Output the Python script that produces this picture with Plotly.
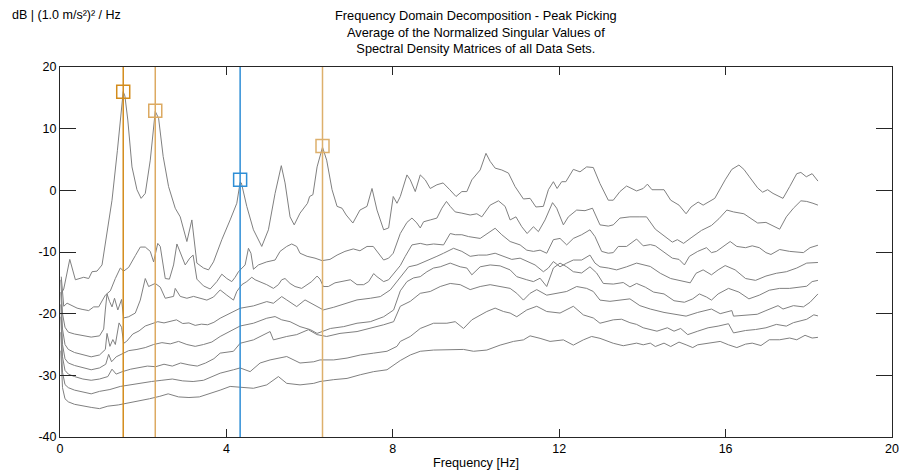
import plotly.graph_objects as go

# ---- data (frequency [Hz], level [dB]) ----
SV1 = [(0.05,-16.5),(0.09,-16.0),(0.235,-11.2),(0.37,-14.5),(0.57,-14.1),(0.69,-14.3),(0.77,-13.2),(0.89,-13.1),(1.01,-12.1),(1.13,-6.5),(1.25,-1.6),(1.38,6.5),(1.47,13.5),(1.52,16.0),(1.56,15.3),(1.63,11.4),(1.73,3.8),(1.85,0.1),(1.95,-1.3),(2.05,-0.5),(2.17,4.9),(2.29,12.8),(2.37,11.7),(2.48,5.5),(2.61,0.6),(2.77,-2.9),(2.89,-4.3),(3.05,-8.3),(3.17,-4.8),(3.29,-11.8),(3.45,-12.6),(3.57,-12.9),(3.69,-11.6),(3.89,-8.0),(4.09,-4.8),(4.25,-2.1),(4.33,1.3),(4.36,1.2),(4.49,-2.6),(4.65,-6.4),(4.85,-9.1),(5.01,-6.4),(5.17,-0.5),(5.32,4.0),(5.41,1.2),(5.53,-4.3),(5.63,-5.6),(5.77,-3.7),(5.95,-2.1),(6.0,-1.0),(6.08,-0.7),(6.18,3.8),(6.31,7.0),(6.41,4.9),(6.54,0.1),(6.66,-2.6),(6.78,-2.9),(6.88,-4.0),(7.04,-5.3),(7.21,-3.2),(7.38,-2.6),(7.5,0.3),(7.62,-3.2),(7.78,-6.4),(7.9,-6.1),(8.01,-1.0),(8.1,-2.1),(8.18,-1.0),(8.34,2.5),(8.42,1.7),(8.54,-0.2),(8.66,2.5),(8.78,1.7),(8.9,0.3),(9.06,0.9),(9.21,1.2),(9.37,0.1),(9.52,-1.0),(9.66,-0.2),(9.78,-0.2),(9.9,1.7),(10.1,3.3),(10.24,6.0),(10.34,4.7),(10.46,3.6),(10.62,3.3),(10.78,2.8),(10.94,0.6),(11.14,-1.4),(11.3,-1.3),(11.44,-2.7),(11.62,-2.6),(11.74,0.1),(11.86,1.4),(11.95,0.3),(12.06,1.4),(12.16,1.4),(12.34,3.4),(12.5,3.0),(12.66,3.8),(12.82,3.7),(12.98,1.1),(13.18,-1.6),(13.3,-1.6),(13.46,-0.2),(13.62,0.7),(13.86,-0.1),(14.02,0.3),(14.12,1.0),(14.23,0.1),(14.52,0.1),(14.68,-1.6),(14.88,-2.4),(15.05,-3.8),(15.17,-2.7),(15.34,-1.9),(15.46,-2.4),(15.74,-1.3),(15.99,1.7),(16.15,3.4),(16.32,4.1),(16.44,3.4),(16.56,2.3),(16.77,0.4),(16.89,-0.3),(17.01,0.1),(17.14,-0.5),(17.38,-1.3),(17.54,0.6),(17.71,2.7),(17.81,2.9),(17.94,2.2),(18.08,2.7),(18.22,1.5)]

SV2 = [(0.03,-14.0),(0.09,-18.8),(0.17,-18.3),(0.29,-18.7),(0.41,-19.1),(0.53,-19.3),(0.69,-19.5),(0.81,-18.9),(0.93,-18.9),(1.09,-17.0),(1.21,-16.3),(1.33,-14.3),(1.45,-12.6),(1.53,-13.1),(1.65,-12.5),(1.81,-10.6),(1.93,-9.2),(2.05,-9.2),(2.17,-9.9),(2.25,-11.6),(2.35,-8.6),(2.41,-9.1),(2.48,-12.4),(2.53,-14.3),(2.63,-14.4),(2.73,-12.1),(2.81,-8.7),(2.89,-10.2),(3.01,-12.1),(3.12,-11.0),(3.2,-10.5),(3.29,-14.4),(3.45,-15.5),(3.61,-16.0),(3.77,-14.8),(3.89,-13.6),(4.01,-14.3),(4.13,-14.8),(4.21,-14.1),(4.29,-13.2),(4.37,-12.6),(4.45,-12.1),(4.53,-9.4),(4.59,-10.2),(4.65,-12.8),(4.77,-12.1),(4.97,-11.6),(5.17,-11.3),(5.29,-9.9),(5.45,-9.1),(5.57,-8.7),(5.69,-9.1),(5.77,-10.2),(5.94,-10.7),(6.13,-11.0),(6.3,-11.4),(6.49,-11.2),(6.66,-10.5),(6.85,-9.9),(7.05,-9.5),(7.21,-9.8),(7.38,-9.1),(7.53,-9.1),(7.65,-10.2),(7.78,-11.3),(7.9,-11.0),(8.01,-10.2),(8.18,-7.0),(8.34,-5.2),(8.46,-4.5),(8.58,-5.3),(8.66,-6.1),(8.74,-5.1),(8.9,-4.8),(9.06,-4.5),(9.18,-2.9),(9.29,-1.8),(9.38,-2.6),(9.5,-3.5),(9.66,-3.7),(9.86,-4.0),(10.02,-3.8),(10.14,-4.3),(10.34,-2.4),(10.54,-1.7),(10.7,-2.6),(10.82,-4.8),(10.96,-4.3),(11.1,-5.9),(11.23,-7.0),(11.38,-5.9),(11.5,-6.7),(11.66,-4.8),(11.84,-2.0),(11.94,-2.9),(12.1,-5.6),(12.22,-4.3),(12.42,-3.2),(12.62,-3.3),(12.8,-2.9),(12.98,-5.6),(13.18,-5.8),(13.3,-5.6),(13.46,-4.5),(13.7,-4.3),(13.94,-4.3),(14.1,-4.3),(14.31,-6.3),(14.52,-7.4),(14.72,-8.4),(14.84,-8.0),(14.99,-8.6),(15.17,-7.7),(15.42,-6.5),(15.66,-5.7),(15.84,-4.6),(16.03,-3.2),(16.19,-3.5),(16.44,-3.8),(16.6,-4.6),(16.77,-5.3),(16.97,-5.2),(17.14,-5.7),(17.3,-6.3),(17.46,-4.3),(17.63,-2.9),(17.81,-1.7),(17.95,-1.8),(18.1,-2.1),(18.22,-2.4)]

SV3 = [(0.02,-14.5),(0.06,-20.0),(0.12,-22.2),(0.2,-23.0),(0.35,-23.3),(0.55,-23.5),(0.75,-23.8),(0.95,-23.6),(1.05,-22.5),(1.09,-19.4),(1.13,-16.8),(1.19,-18.0),(1.25,-18.9),(1.31,-17.5),(1.39,-19.4),(1.48,-17.7),(1.53,-20.7),(1.65,-20.5),(1.81,-19.9),(1.93,-17.8),(2.05,-14.3),(2.13,-15.6),(2.29,-15.1),(2.41,-15.7),(2.53,-17.5),(2.73,-17.2),(2.77,-15.9),(2.89,-17.2),(3.05,-17.5),(3.21,-17.2),(3.37,-17.5),(3.53,-17.8),(3.69,-17.3),(3.85,-16.15),(4.01,-17.0),(4.17,-17.8),(4.25,-16.4),(4.37,-15.3),(4.49,-14.8),(4.61,-14.1),(4.69,-14.5),(4.81,-14.8),(4.97,-15.3),(5.13,-15.9),(5.25,-15.3),(5.33,-14.5),(5.41,-14.3),(5.53,-15.1),(5.65,-15.6),(5.81,-15.9),(5.93,-15.3),(6.05,-14.8),(6.18,-13.9),(6.25,-14.4),(6.33,-15.6),(6.45,-15.6),(6.61,-15.0),(6.78,-14.8),(6.98,-14.5),(7.14,-15.3),(7.3,-15.3),(7.42,-14.8),(7.54,-13.5),(7.62,-14.0),(7.78,-14.8),(7.9,-14.5),(8.02,-13.5),(8.18,-12.2),(8.3,-10.7),(8.46,-8.85),(8.66,-8.6),(8.82,-8.85),(8.98,-8.7),(9.22,-8.85),(9.38,-7.0),(9.5,-7.2),(9.66,-7.2),(9.82,-7.5),(10.1,-7.8),(10.26,-7.0),(10.46,-6.15),(10.62,-7.2),(10.82,-8.3),(11.06,-8.85),(11.22,-9.7),(11.38,-9.9),(11.54,-9.7),(11.7,-10.2),(11.86,-8.0),(12.02,-7.8),(12.18,-8.85),(12.34,-7.8),(12.54,-7.2),(12.74,-6.4),(12.86,-7.5),(13.02,-9.9),(13.18,-10.2),(13.3,-10.1),(13.42,-9.1),(13.62,-9.1),(13.86,-7.9),(14.02,-9.0),(14.19,-8.8),(14.31,-9.0),(14.52,-10.1),(14.72,-11.0),(14.88,-11.2),(15.01,-12.1),(15.13,-10.7),(15.33,-9.9),(15.54,-9.3),(15.66,-10.1),(15.78,-9.9),(15.95,-9.0),(16.11,-8.3),(16.27,-9.1),(16.48,-9.3),(16.64,-9.0),(16.81,-9.3),(16.97,-10.1),(17.09,-10.4),(17.3,-9.6),(17.54,-9.9),(17.87,-10.1),(18.03,-9.3),(18.22,-8.9)]

SV4 = [(0.02,-16.5),(0.06,-22.5),(0.12,-25.0),(0.2,-25.8),(0.35,-26.3),(0.55,-26.6),(0.75,-27.0),(0.95,-26.7),(1.09,-25.8),(1.13,-23.2),(1.2,-25.3),(1.27,-24.2),(1.33,-25.0),(1.42,-21.5),(1.48,-22.2),(1.53,-24.8),(1.6,-24.5),(1.75,-23.3),(1.9,-22.8),(2.05,-22.0),(2.2,-21.6),(2.35,-21.3),(2.5,-21.5),(2.65,-21.2),(2.8,-21.0),(2.95,-21.6),(3.1,-21.5),(3.25,-21.9),(3.4,-21.7),(3.55,-21.8),(3.7,-21.4),(3.85,-20.74),(4.17,-19.66),(4.33,-19.12),(4.65,-18.74),(4.97,-18.04),(5.13,-18.31),(5.33,-17.23),(5.45,-17.77),(5.69,-18.85),(5.89,-17.77),(6.18,-18.85),(6.33,-19.39),(6.58,-18.96),(6.9,-18.31),(7.14,-17.77),(7.46,-17.5),(7.7,-17.23),(7.94,-16.15),(8.18,-14.0),(8.38,-12.4),(8.58,-12.1),(8.78,-11.55),(9.06,-10.7),(9.22,-10.2),(9.46,-9.4),(9.66,-9.9),(9.86,-10.7),(10.06,-10.5),(10.26,-10.5),(10.46,-10.2),(10.66,-10.7),(10.86,-11.2),(11.06,-11.0),(11.26,-11.55),(11.42,-12.1),(11.62,-13.2),(11.74,-12.6),(11.86,-11.55),(12.02,-12.4),(12.18,-11.8),(12.34,-11.3),(12.54,-11.3),(12.74,-10.5),(12.86,-11.8),(12.98,-12.4),(13.18,-12.6),(13.38,-12.9),(13.62,-12.4),(13.86,-11.8),(14.19,-12.35),(14.43,-13.45),(14.68,-14.3),(14.92,-14.6),(15.15,-15.0),(15.29,-13.45),(15.46,-12.9),(15.66,-13.7),(15.82,-12.9),(15.99,-12.2),(16.23,-12.9),(16.48,-14.3),(16.72,-14.6),(16.97,-13.9),(17.22,-13.45),(17.46,-13.2),(17.71,-12.6),(17.95,-11.8),(18.22,-11.7)]

SV5 = [(0.02,-18.5),(0.06,-25.0),(0.12,-27.3),(0.2,-28.0),(0.35,-28.4),(0.55,-28.8),(0.75,-29.1),(0.95,-28.8),(1.1,-28.2),(1.17,-26.6),(1.24,-27.8),(1.35,-27.0),(1.5,-26.5),(1.65,-26.0),(1.85,-25.8),(2.05,-25.5),(2.25,-25.0),(2.45,-24.7),(2.65,-24.9),(2.85,-24.5),(3.05,-25.0),(3.25,-25.3),(3.45,-25.0),(3.65,-24.6),(3.85,-23.7),(4.09,-22.9),(4.33,-22.0),(4.65,-21.55),(4.97,-20.74),(5.17,-20.47),(5.33,-21.0),(5.53,-21.3),(5.77,-22.1),(6.02,-22.6),(6.18,-23.2),(6.5,-22.4),(6.82,-22.1),(7.14,-21.55),(7.46,-21.3),(7.78,-20.5),(8.02,-19.4),(8.18,-16.3),(8.34,-14.8),(8.5,-14.2),(8.66,-14.0),(8.82,-13.2),(8.98,-12.6),(9.14,-12.4),(9.38,-11.8),(9.62,-12.4),(9.78,-12.6),(9.9,-13.7),(10.1,-12.4),(10.34,-12.1),(10.58,-12.25),(10.82,-12.9),(10.98,-14.0),(11.22,-14.5),(11.38,-14.8),(11.54,-14.25),(11.7,-15.6),(11.86,-12.6),(12.02,-11.8),(12.18,-12.4),(12.34,-13.2),(12.54,-13.4),(12.74,-12.4),(12.9,-13.4),(13.06,-15.1),(13.3,-15.2),(13.54,-14.95),(13.7,-15.66),(13.86,-15.1),(14.07,-15.7),(14.27,-16.5),(14.52,-16.8),(14.76,-17.9),(15.01,-18.15),(15.21,-17.6),(15.37,-16.8),(15.54,-17.3),(15.66,-17.8),(15.82,-16.8),(16.07,-15.9),(16.32,-16.5),(16.56,-17.6),(16.81,-17.0),(17.05,-16.2),(17.3,-15.9),(17.54,-15.9),(17.79,-15.7),(17.95,-15.55),(18.08,-14.8),(18.22,-14.6)]

SV6 = [(0.02,-20.5),(0.06,-27.0),(0.12,-29.2),(0.2,-29.8),(0.35,-30.2),(0.55,-30.6),(0.75,-30.8),(0.95,-30.6),(1.15,-30.2),(1.25,-29.0),(1.35,-29.8),(1.5,-29.4),(1.7,-29.0),(1.9,-28.8),(2.1,-28.5),(2.3,-28.6),(2.5,-28.2),(2.7,-28.5),(2.9,-28.0),(3.1,-28.3),(3.3,-28.5),(3.5,-28.0),(3.7,-27.3),(3.85,-26.4),(4.17,-26.1),(4.33,-24.8),(4.65,-24.25),(5.05,-22.9),(5.13,-24.25),(5.45,-23.7),(5.69,-23.4),(5.97,-22.6),(6.18,-23.4),(6.41,-23.7),(6.73,-23.2),(7.14,-22.9),(7.46,-22.4),(7.78,-21.8),(8.02,-21.3),(8.18,-18.8),(8.42,-18.0),(8.66,-16.7),(8.9,-16.4),(9.14,-15.6),(9.38,-15.1),(9.62,-15.3),(9.86,-16.1),(10.1,-15.6),(10.34,-15.3),(10.58,-15.6),(10.82,-15.9),(10.98,-16.7),(11.14,-17.8),(11.3,-16.7),(11.46,-16.1),(11.7,-17.0),(11.94,-16.7),(12.18,-16.4),(12.42,-15.6),(12.66,-15.9),(12.82,-16.4),(12.98,-17.8),(13.22,-18.0),(13.46,-17.8),(13.7,-17.6),(13.94,-18.7),(14.19,-19.25),(14.52,-19.8),(14.76,-20.1),(15.05,-20.4),(15.33,-19.8),(15.66,-19.25),(15.87,-20.0),(16.15,-19.5),(16.19,-20.4),(16.48,-20.25),(16.76,-20.1),(16.97,-19.5),(17.26,-18.7),(17.38,-19.25),(17.63,-18.7),(17.87,-18.9),(18.03,-18.15),(18.22,-16.8)]

SV7 = [(0.02,-23.0),(0.06,-29.5),(0.12,-31.5),(0.2,-32.0),(0.35,-32.4),(0.55,-32.7),(0.75,-33.0),(0.95,-32.6),(1.2,-32.3),(1.45,-31.8),(1.7,-31.5),(1.95,-31.3),(2.2,-31.0),(2.45,-30.8),(2.7,-30.6),(2.95,-30.9),(3.2,-31.0),(3.45,-30.8),(3.65,-30.2),(3.85,-29.65),(4.17,-29.1),(4.33,-28.8),(4.57,-29.4),(4.81,-28.0),(5.05,-27.5),(5.45,-26.95),(5.77,-28.0),(6.1,-27.8),(6.25,-27.5),(6.58,-27.5),(6.9,-27.2),(7.22,-26.7),(7.54,-26.4),(7.86,-26.1),(8.1,-25.3),(8.18,-24.5),(8.42,-23.7),(8.66,-22.4),(8.98,-21.55),(9.3,-21.55),(9.5,-21.3),(9.7,-22.4),(9.9,-21.0),(10.26,-19.65),(10.46,-19.1),(10.66,-19.65),(10.82,-19.9),(10.98,-20.5),(11.22,-19.4),(11.46,-18.8),(11.7,-19.65),(12.02,-19.9),(12.34,-18.8),(12.58,-20.2),(12.82,-20.7),(12.98,-21.55),(13.3,-21.0),(13.5,-20.9),(13.7,-21.46),(13.86,-21.74),(14.02,-22.29),(14.19,-22.57),(14.35,-22.84),(14.6,-22.29),(14.76,-22.84),(14.92,-22.4),(15.09,-23.4),(15.33,-22.84),(15.58,-22.29),(15.82,-22.02),(16.07,-21.63),(16.19,-23.12),(16.48,-22.73),(16.72,-22.57),(16.97,-22.29),(17.22,-21.74),(17.46,-22.02),(17.63,-21.46),(17.79,-21.19),(17.95,-20.91),(18.12,-20.19),(18.22,-20.36)]

SV8 = [(0.02,-26.0),(0.06,-32.0),(0.12,-33.8),(0.2,-34.3),(0.35,-34.7),(0.55,-35.0),(0.75,-35.2),(0.95,-35.4),(1.15,-35.0),(1.4,-34.8),(1.65,-34.5),(1.9,-34.2),(2.15,-33.8),(2.4,-33.4),(2.6,-33.0),(2.85,-33.5),(3.1,-33.6),(3.35,-33.5),(3.6,-33.0),(3.85,-32.4),(4.09,-31.8),(4.33,-31.9),(4.65,-32.1),(4.97,-31.55),(5.25,-30.2),(5.45,-31.3),(5.77,-31.55),(6.1,-31.3),(6.25,-31.0),(6.58,-30.7),(6.9,-30.5),(7.22,-29.9),(7.54,-29.4),(7.86,-29.1),(8.18,-27.6),(8.42,-26.7),(8.66,-26.1),(8.98,-25.9),(9.3,-25.9),(9.7,-25.8),(9.94,-26.1),(10.26,-25.9),(10.58,-25.1),(10.9,-24.5),(11.14,-24.25),(11.3,-23.6),(11.54,-24.0),(11.78,-24.5),(12.1,-24.25),(12.34,-25.1),(12.58,-24.25),(12.78,-23.7),(12.98,-24.0),(13.3,-24.8),(13.54,-25.2),(13.7,-25.05),(13.86,-24.78),(14.02,-25.05),(14.19,-24.78),(14.31,-25.33),(14.52,-24.78),(14.68,-25.33),(14.88,-24.61),(15.05,-25.05),(15.21,-25.5),(15.33,-25.05),(15.58,-24.78),(15.87,-24.5),(16.07,-25.05),(16.27,-25.5),(16.48,-24.94),(16.64,-24.78),(16.85,-25.17),(17.05,-24.23),(17.3,-24.23),(17.54,-23.95),(17.71,-24.23),(17.91,-23.51),(18.08,-23.95),(18.22,-23.84)]

PEAK_FREQ = [1.52, 2.29, 4.33, 6.31]
PEAK_DB = [16.0, 12.9, 1.7, 7.2]
PEAK_COLORS = ["#D38C1C", "#DCAA62", "#2E8ED6", "#DDB06C"]

X_TICKS = [0, 4, 8, 12, 16, 20]
Y_TICKS = [-40, -30, -20, -10, 0, 10, 20]
Y_TICK_TEXT = ["-40", "-30", "-20", "-10", "0", "10", "20"]

FONT = "Liberation Sans, Arial, Helvetica, sans-serif"

fig = go.Figure()
for sv in [SV1, SV2, SV3, SV4, SV5, SV6, SV7, SV8]:
    fig.add_trace(go.Scatter(x=[p[0] for p in sv], y=[p[1] for p in sv], mode="lines",
                             line=dict(color="#808080", width=1), hoverinfo="skip"))

for f, d, c in zip(PEAK_FREQ, PEAK_DB, PEAK_COLORS):
    fig.add_trace(go.Scatter(x=[f, f], y=[Y_TICKS[0], Y_TICKS[-1]], mode="lines",
                             line=dict(color=c, width=1.5), hoverinfo="skip"))
    fig.add_trace(go.Scatter(x=[f], y=[d], mode="markers", hoverinfo="skip",
                             marker=dict(symbol="square-open", size=13, color=c, line=dict(width=1.5, color=c))))

axis_common = dict(showline=True, linecolor="#262626", linewidth=1, mirror="ticks", ticks="inside",
                   tickcolor="#262626", showgrid=False, zeroline=False,
                   tickfont=dict(family=FONT, size=12.5, color="#000000"))
fig.update_xaxes(range=[0, 20], tickvals=X_TICKS, ticklen=8, **axis_common)
fig.update_yaxes(range=[-40, 20], tickvals=Y_TICKS, ticktext=Y_TICK_TEXT, ticklen=16, **axis_common)

fig.update_layout(
    width=899, height=474, showlegend=False,
    paper_bgcolor="white", plot_bgcolor="white",
    margin=dict(l=60, r=7, t=67, b=37, autoexpand=False),
    font=dict(family=FONT, size=12.7, color="#000000"),
    annotations=[
        dict(text="Frequency Domain Decomposition - Peak Picking<br>Average of the Normalized Singular Values of<br>Spectral Density Matrices of all Data Sets.",
             xref="paper", yref="paper", x=0.5, y=1.164, xanchor="center", yanchor="top",
             showarrow=False, font=dict(family=FONT, size=12.8, color="#000000")),
        dict(text="dB | (1.0 m/s²)² / Hz", xref="paper", yref="paper", x=-0.06, y=1.164,
             xanchor="left", yanchor="top", showarrow=False, font=dict(family=FONT, size=12.5, color="#000000")),
        dict(text="Frequency [Hz]", xref="paper", yref="paper", x=0.5, y=-0.07,
             xanchor="center", yanchor="middle", showarrow=False, font=dict(family=FONT, size=12.7, color="#000000")),
    ],
)
# remove the default page margin so the 899x474 figure fills the window exactly
fig.write_html("out.html", config={"displayModeBar": False},
               post_script="document.body.style.margin='0';document.body.style.overflow='hidden';")
